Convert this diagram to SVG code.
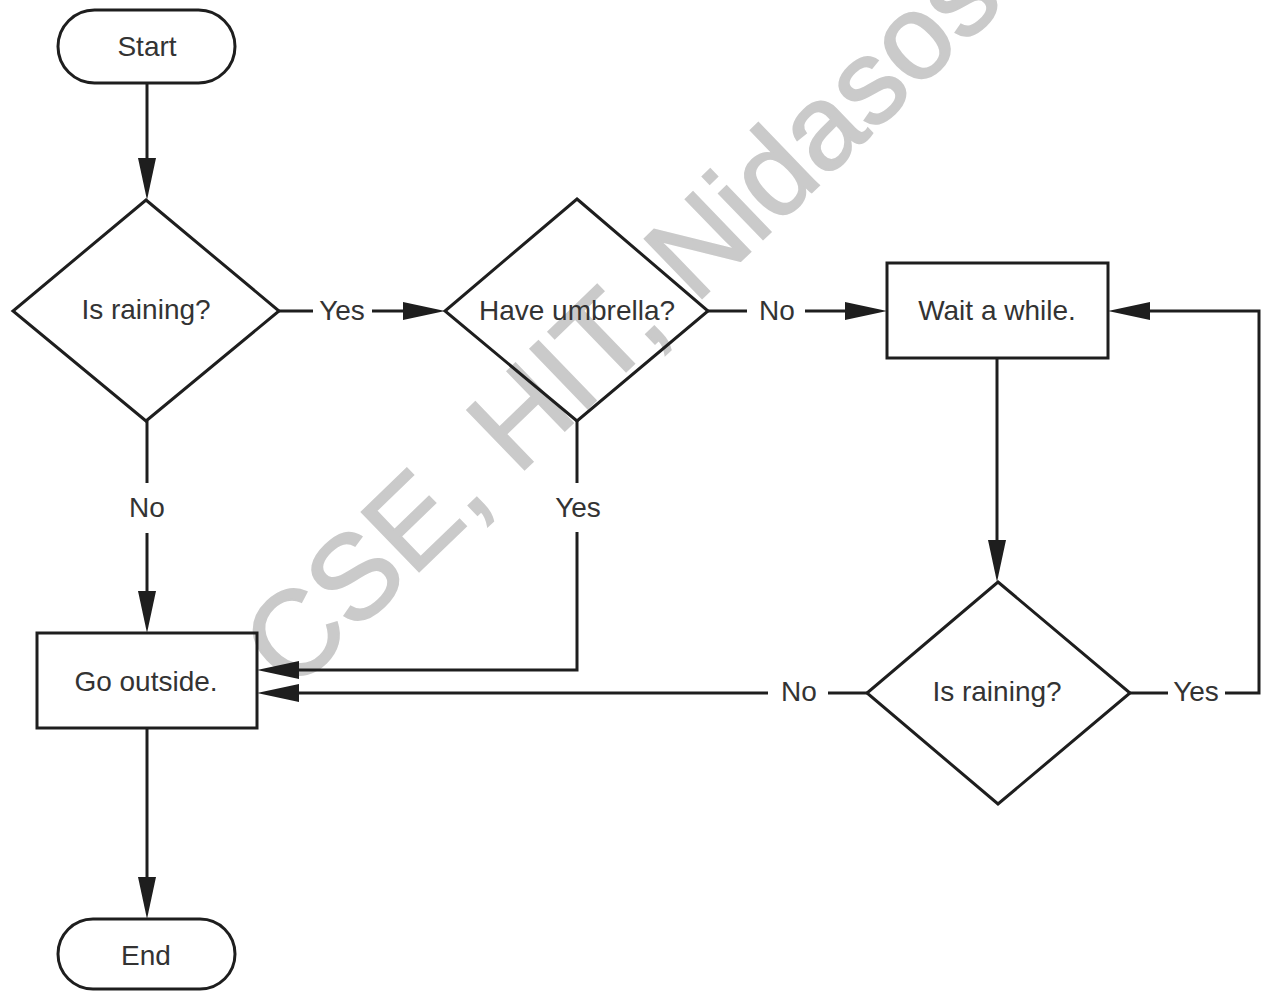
<svg xmlns="http://www.w3.org/2000/svg" width="1262" height="991" viewBox="0 0 1262 991">
  <defs>
    <marker id="arrow" markerUnits="userSpaceOnUse" viewBox="0 0 42 18" refX="32" refY="9" markerWidth="42" markerHeight="18" orient="auto">
      <path d="M0,0 L42,9 L0,18 z" fill="#1e1e1e"/>
    </marker>
    <style>
      .shape { fill: none; stroke: #1e1e1e; stroke-width: 3; stroke-linejoin: miter; }
      .edge { fill: none; stroke: #1e1e1e; stroke-width: 3; }
      .txt { font-family: "Liberation Sans", Arial, sans-serif; font-size: 28px; fill: #333; text-anchor: middle; }
      .mark { font-family: "Liberation Sans", Arial, sans-serif; font-size: 120px; fill: #cacaca; stroke: #cacaca; stroke-width: 2; }
    </style>
  </defs>
  <rect width="1262" height="991" fill="#fff"/>

  <!-- background watermark -->
  <text class="mark" transform="translate(292,694) rotate(-44)">CSE, HIT, Nidasosi</text>

  <!-- connectors -->
  <g id="connectors">
    <path class="edge" d="M147,83 V190" marker-end="url(#arrow)"/>
    <path class="edge" d="M279,311 H313"/>
    <path class="edge" d="M372,311 H435" marker-end="url(#arrow)"/>
    <path class="edge" d="M708,311 H747"/>
    <path class="edge" d="M805,311 H877" marker-end="url(#arrow)"/>
    <path class="edge" d="M997,358 V572" marker-end="url(#arrow)"/>
    <path class="edge" d="M867,693 H828"/>
    <path class="edge" d="M768,693 H267" marker-end="url(#arrow)"/>
    <path class="edge" d="M1130,693 H1168"/>
    <path class="edge" d="M1225,693 H1259 V311 H1118" marker-end="url(#arrow)"/>
    <path class="edge" d="M147,421 V483"/>
    <path class="edge" d="M147,533 V623" marker-end="url(#arrow)"/>
    <path class="edge" d="M577,421 V483"/>
    <path class="edge" d="M577,532 V670 H267" marker-end="url(#arrow)"/>
    <path class="edge" d="M147,728 V909" marker-end="url(#arrow)"/>
    <text class="txt" x="342" y="320">Yes</text>
    <text class="txt" x="777" y="320">No</text>
    <text class="txt" x="799" y="701">No</text>
    <text class="txt" x="1196" y="701">Yes</text>
    <text class="txt" x="147" y="517">No</text>
    <text class="txt" x="578" y="517">Yes</text>
  </g>

  <g id="start">
    <rect class="shape" x="58" y="10" width="177" height="73" rx="36.5"/>
    <text class="txt" x="147" y="56">Start</text>
  </g>
  <g id="is-raining-1">
    <polygon class="shape" points="146,200 279,311 146,421 13,311"/>
    <text class="txt" x="146" y="319">Is raining?</text>
  </g>
  <g id="have-umbrella">
    <polygon class="shape" points="577,199 708,311 577,421 445,311"/>
    <text class="txt" x="577" y="320">Have umbrella?</text>
  </g>
  <g id="wait">
    <rect class="shape" x="887" y="263" width="221" height="95"/>
    <text class="txt" x="997" y="320">Wait a while.</text>
  </g>
  <g id="is-raining-2">
    <polygon class="shape" points="998,582 1130,693 998,804 867,693"/>
    <text class="txt" x="997" y="701">Is raining?</text>
  </g>
  <g id="go-outside">
    <rect class="shape" x="37" y="633" width="220" height="95"/>
    <text class="txt" x="146" y="691">Go outside.</text>
  </g>
  <g id="end">
    <rect class="shape" x="58" y="919" width="177" height="70" rx="35"/>
    <text class="txt" x="146" y="965">End</text>
  </g>
</svg>
